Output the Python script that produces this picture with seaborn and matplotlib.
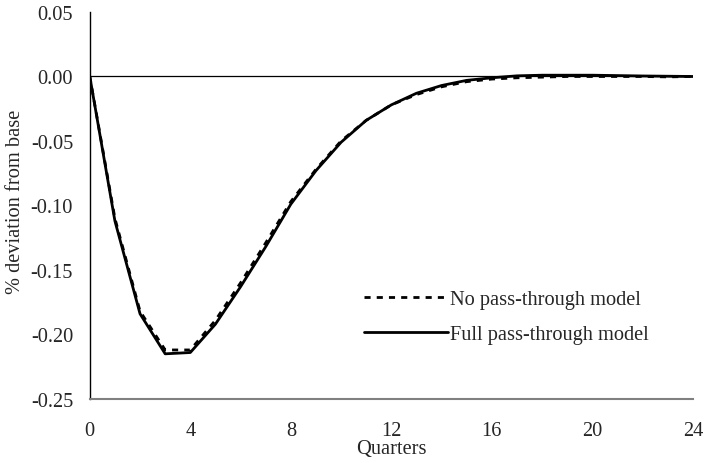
import numpy as np
import pandas as pd
import matplotlib
matplotlib.use('Agg')
import matplotlib.pyplot as plt
import seaborn as sns

# impulse response, % deviation from base, by quarter
quarters = list(range(25))
no_pass = [0.0, -0.110, -0.182, -0.212, -0.212, -0.189, -0.160, -0.129,
           -0.097, -0.072, -0.050, -0.034, -0.022, -0.014, -0.008, -0.004,
           -0.002, -0.001, -0.0005, 0.0, 0.0, 0.0, 0.0, -0.0003, 0.0]
full_pass = [0.0, -0.112, -0.184, -0.215, -0.214, -0.192, -0.163, -0.132,
             -0.099, -0.073, -0.051, -0.034, -0.022, -0.013, -0.007, -0.003,
             -0.001, 0.0005, 0.001, 0.001, 0.001, 0.0007, 0.0004, 0.0002, 0.0]
labels = ['No pass-through model', 'Full pass-through model']
x_ticks = [0, 4, 8, 12, 16, 20, 24]
y_ticks = [0.05, 0.00, -0.05, -0.10, -0.15, -0.20, -0.25]

df = pd.DataFrame({
    'quarter': quarters * 2,
    'value': no_pass + full_pass,
    'model': [labels[0]] * len(quarters) + [labels[1]] * len(quarters),
})

sns.set_style('white')
plt.rcParams['font.family'] = ['Liberation Serif', 'DejaVu Serif']
fs = 14.7

fig = plt.figure(figsize=(7.07, 4.64), dpi=100)
ax = fig.add_axes([0.127, 0.138, 0.853, 0.834])

ax.axhline(0, color='black', linewidth=0.9, zorder=1)
sns.lineplot(data=df, x='quarter', y='value', hue='model', style='model',
             palette=['black', 'black'], dashes=[(2.2, 2.2), ''],
             linewidth=2.0, ax=ax, legend=True)

ax.set_xlim(0, 24)
ax.set_ylim(-0.25, 0.05)
ax.set_xticks(x_ticks)
ax.set_yticks(y_ticks)
ax.set_yticklabels([f'{v:.2f}' for v in y_ticks])
ax.tick_params(axis='both', direction='in', length=5, width=0.9,
               labelsize=fs, color='black')
ax.tick_params(axis='x', pad=16)
ax.tick_params(axis='y', pad=12)

ax.set_xlabel('Quarters', fontsize=fs)
ax.xaxis.set_label_coords(0.5, -0.103)
ax.set_ylabel('% deviation from base', fontsize=fs)
ax.yaxis.set_label_coords(-0.108, 0.512)

for side in ['top', 'right']:
    ax.spines[side].set_visible(False)
ax.spines['left'].set_color('black')
ax.spines['left'].set_linewidth(1.0)
ax.spines['bottom'].set_color('#808080')
ax.spines['bottom'].set_linewidth(1.5)

handles, lbls = ax.get_legend_handles_labels()
ax.legend(handles, lbls, loc='center left', bbox_to_anchor=(0.425, 0.212),
          frameon=False, fontsize=fs, handlelength=4.1, handletextpad=0.1,
          labelspacing=0.75)

fig.savefig('out.png', dpi=100)
